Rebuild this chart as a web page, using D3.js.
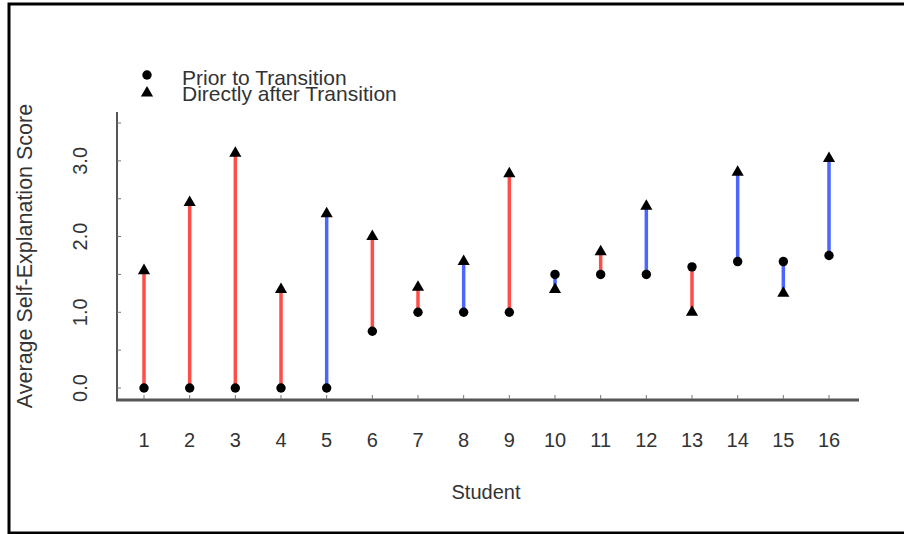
<!DOCTYPE html>
<html>
<head>
<meta charset="utf-8">
<script src="https://cdn.jsdelivr.net/npm/d3@7"></script>
<style>
  body { margin: 0; background: #fff; }
  text { font-family: "Liberation Sans", Arial, sans-serif; fill: #333; }
</style>
</head>
<body>
<div id="chart"></div>
<script>
/* DATA */
const students = d3.range(1, 17);
const prior = [0, 0, 0, 0, 0, 0.75, 1.0, 1.0, 1.0, 1.5, 1.5, 1.5, 1.6, 1.67, 1.67, 1.75];
const after = [1.55, 2.45, 3.1, 1.3, 2.3, 2.0, 1.33, 1.67, 2.83, 1.3, 1.8, 2.4, 1.0, 2.85, 1.25, 3.03];
const group = ["r", "r", "r", "r", "b", "r", "r", "b", "r", "b", "r", "b", "r", "b", "b", "b"];
const yTicks = [0, 0.5, 1, 1.5, 2, 2.5, 3, 3.5];
const yLabels = [0, 1, 2, 3];

const W = 904, H = 534;
const colors = { r: "#ff4d48", b: "#4a66ff" };

const svg = d3.select("#chart").append("svg")
  .attr("width", W).attr("height", H);

// frame
svg.append("rect")
  .attr("x", 9).attr("y", 4)
  .attr("width", W + 10).attr("height", 529)
  .attr("fill", "none").attr("stroke", "#000").attr("stroke-width", 3);

const x = d3.scaleLinear().domain([1, 16]).range([144, 829]);
const y = d3.scaleLinear().domain([0, 3.5]).range([388, 123]);

// y axis line
svg.append("line")
  .attr("x1", 117).attr("x2", 117).attr("y1", 112).attr("y2", 401)
  .attr("stroke", "#555").attr("stroke-width", 2);

svg.selectAll(".ytick").data(yTicks).join("line")
  .attr("x1", 117).attr("x2", 121)
  .attr("y1", d => y(d)).attr("y2", d => y(d))
  .attr("stroke", "#777").attr("stroke-width", 1);

svg.selectAll(".ylab").data(yLabels).join("text")
  .attr("transform", d => `translate(87,${y(d)}) rotate(-90)`)
  .attr("text-anchor", "middle")
  .attr("font-size", 20)
  .text(d => d.toFixed(1));

// x axis line
svg.append("line")
  .attr("x1", 116).attr("x2", 859).attr("y1", 400).attr("y2", 400)
  .attr("stroke", "#555").attr("stroke-width", 3);

svg.selectAll(".xtick").data(students).join("line")
  .attr("x1", d => x(d)).attr("x2", d => x(d))
  .attr("y1", 399).attr("y2", 395)
  .attr("stroke", "#777").attr("stroke-width", 1);

svg.selectAll(".xlab").data(students).join("text")
  .attr("x", d => x(d)).attr("y", 447)
  .attr("text-anchor", "middle")
  .attr("font-size", 20)
  .text(d => d);

svg.append("text")
  .attr("x", 486).attr("y", 499)
  .attr("text-anchor", "middle").attr("font-size", 20)
  .text("Student");

svg.append("text")
  .attr("transform", "translate(32,256) rotate(-90)")
  .attr("text-anchor", "middle").attr("font-size", 21.5)
  .text("Average Self-Explanation Score");

// segments
const rows = students.map((s, i) => ({ s, p: prior[i], a: after[i], g: group[i] }));

svg.selectAll(".seg").data(rows).join("line")
  .attr("x1", d => x(d.s)).attr("x2", d => x(d.s))
  .attr("y1", d => y(d.p)).attr("y2", d => y(d.a))
  .attr("stroke", d => colors[d.g]).attr("stroke-width", 3.5);

const tri = d3.symbol().type(d3.symbolTriangle).size(64);

svg.selectAll(".pt").data(rows).join("circle")
  .attr("cx", d => x(d.s)).attr("cy", d => y(d.p))
  .attr("r", 4.7).attr("fill", "#000");

svg.selectAll(".tri").data(rows).join("path")
  .attr("d", tri)
  .attr("transform", d => `translate(${x(d.s)},${y(d.a)})`)
  .attr("fill", "#000");

// legend
svg.append("circle").attr("cx", 147).attr("cy", 75).attr("r", 4.7).attr("fill", "#000");
svg.append("path").attr("d", tri).attr("transform", "translate(147,93)").attr("fill", "#000");
svg.append("text").attr("x", 182).attr("y", 85).attr("font-size", 21).text("Prior to Transition");
svg.append("text").attr("x", 182).attr("y", 101).attr("font-size", 21).text("Directly after Transition");
</script>
</body>
</html>
